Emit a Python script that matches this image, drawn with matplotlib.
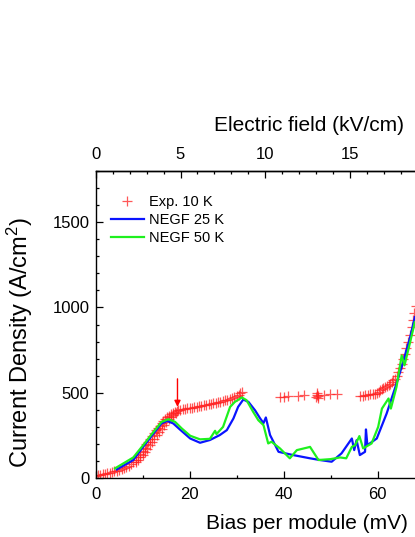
import matplotlib
matplotlib.use("Agg")
import matplotlib.pyplot as plt
from matplotlib.ticker import MultipleLocator

plt.rcParams['font.family'] = ['Liberation Sans', 'DejaVu Sans']
plt.rcParams['mathtext.fontset'] = 'custom'
plt.rcParams['mathtext.rm'] = 'Liberation Sans'
plt.rcParams['mathtext.it'] = 'Liberation Sans:italic'

# experiment, 10 K (up sweep)
exp_v = [0, 0.5, 1.0, 1.5, 2.0, 2.5, 3.0, 3.5, 4.0, 4.5, 5.0, 5.5, 6.0, 6.5, 7.0, 7.5,
         8.0, 8.5, 9.0, 9.5, 10.0, 10.4, 10.8, 11.2, 11.6, 12.0, 12.4, 12.8, 13.2, 13.6,
         14.0, 14.4, 14.8, 15.2, 15.6, 16.0, 16.4, 16.8, 17.2, 17.6, 18.0, 18.5, 19.0,
         19.5, 20.0, 20.5, 21.0, 21.5, 22.0, 22.5, 23.0, 23.5, 24.0, 24.5, 25.0, 25.5,
         26.0, 26.5, 27.0, 27.5, 28.0, 28.5, 29.0, 29.5, 30.0, 30.4, 30.8, 31.2]
exp_j = [15, 18, 21, 24, 27, 30, 33, 36, 40, 44, 48, 53, 59, 66, 74, 84,
         96, 110, 126, 143, 162, 180, 198, 215, 232, 248, 264, 280, 295, 309,
         322, 335, 347, 358, 367, 375, 382, 388, 393, 397, 400, 403, 406,
         409, 411, 414, 416, 418, 421, 424, 427, 430, 433, 436, 439, 442,
         445, 449, 453, 457, 461, 466, 471, 477, 484, 490, 497, 505]
# second branch in the rising part
exp2_v = [8.5, 9.0, 9.5, 10.0, 10.5, 11.0, 11.5, 12.0, 12.5, 13.0, 13.5, 14.0,
          14.5, 15.0, 15.5, 16.0, 16.5, 17.0]
exp2_j = [95, 108, 122, 138, 155, 173, 192, 211, 231, 251, 271, 291,
          310, 328, 345, 360, 373, 384]
# scattered points in the unstable region
exp3_v = [39.2, 40.0, 41.0, 43.0, 44.3, 46.8, 47.0, 47.1, 47.2, 47.4, 48.5, 49.8, 51.3]
exp3_j = [476, 478, 480, 482, 486, 478, 497, 488, 468, 482, 490, 492, 492]
# high bias branch
exp4_v = [56.2, 56.8, 57.3, 58.0, 58.4, 59.0, 59.4, 59.8, 60.2, 60.5, 60.9, 61.2,
          61.6, 62.0, 62.3, 62.6, 63.0, 63.3, 63.7, 64.0, 64.4, 64.7, 65.1, 65.4,
          65.8, 66.1, 66.5, 66.8, 67.2, 67.5, 67.8, 68.1]
exp4_j = [480, 483, 486, 489, 492, 494, 496, 500, 507, 515, 522, 528,
          535, 542, 548, 554, 565, 574, 583, 600, 622, 645, 671, 697,
          729, 760, 797, 840, 885, 925, 970, 1010]

# NEGF 25 K
n25_v = [4.5, 8.0, 10.1, 12.3, 14.0, 15.2, 16.5, 17.9, 20.1, 22.2, 24.3, 26.4, 27.9,
         29.3, 30.3, 31.4, 32.5, 33.9, 35.0, 35.7, 36.2, 37.1, 38.9, 42.0, 45.6,
         47.7, 50.2, 52.3, 54.5, 55.0, 55.5, 56.2, 57.3, 57.5, 57.8, 59.8, 61.9,
         64.0, 65.4, 66.9, 67.9]
n25_j = [52, 107, 184, 262, 321, 336, 321, 286, 233, 208, 224, 253, 282,
         350, 418, 461, 447, 398, 350, 323, 356, 253, 155, 136, 117,
         107, 97, 146, 233, 165, 223, 136, 155, 286, 194, 233, 379,
         554, 680, 826, 943]

# NEGF 50 K
n50_v = [4.1, 8.0, 10.1, 12.3, 14.0, 15.5, 16.9, 18.3, 20.1, 22.2, 24.3, 25.4, 25.7,
         27.1, 28.6, 29.6, 31.1, 32.1, 33.5, 34.6, 35.7, 36.7, 37.4, 39.2, 41.3,
         42.8, 45.2, 45.6, 47.4, 49.9, 52.0, 53.3, 54.5, 55.2, 56.1, 56.9, 58.7,
         60.1, 60.9, 62.3, 62.8, 64.0, 65.1, 65.7, 66.9, 67.9]
n50_j = [58, 122, 194, 272, 330, 346, 330, 292, 249, 228, 231, 278, 259,
         301, 418, 447, 473, 457, 389, 340, 311, 204, 214, 175, 117,
         165, 181, 184, 107, 112, 122, 117, 184, 194, 247, 175, 204,
         301, 408, 467, 408, 535, 719, 661, 797, 914]

MV_TO_KVCM = 0.2771

fig = plt.figure(figsize=(4.15, 5.37), dpi=100)
ax = fig.add_axes([0.2306, 0.1093, 0.7928, 0.5728])

mk = dict(ls='none', marker='+', color='#ff2020', ms=6.5, mew=0.9, alpha=0.75)
ax.plot(exp_v, exp_j, label='Exp. 10 K', **mk)
ax.plot(exp2_v, exp2_j, **mk)
ax.plot(exp3_v, exp3_j, **mk)
ax.plot(exp4_v, exp4_j, **mk)
ax.plot(n25_v, n25_j, color='#0a14ff', lw=1.6, label='NEGF 25 K')
ax.plot(n50_v, n50_j, color='#1ef01e', lw=1.6, label='NEGF 50 K')

ax.annotate('', xy=(17.4, 418), xytext=(17.4, 582),
            arrowprops=dict(arrowstyle='-|>', color='red', lw=1.0,
                            mutation_scale=9, shrinkA=0, shrinkB=0))

ax.set_xlim(0, 70)
ax.set_ylim(0, 1800)
ax.xaxis.set_major_locator(MultipleLocator(20))
ax.xaxis.set_minor_locator(MultipleLocator(10))
ax.yaxis.set_major_locator(MultipleLocator(500))
ax.yaxis.set_minor_locator(MultipleLocator(100))
ax.tick_params(which='both', direction='in', labelsize=12, width=0.9, top=False, right=False)
ax.tick_params(which='major', length=5)
ax.tick_params(which='minor', length=2.5)
ax.tick_params(axis='x', which='major', pad=6.5)
ax.tick_params(axis='y', which='major', pad=4.5)
for s in ax.spines.values():
    s.set_linewidth(1.0)

sec = ax.secondary_xaxis('top', functions=(lambda v: v * MV_TO_KVCM,
                                           lambda e: e / MV_TO_KVCM))
sec.xaxis.set_major_locator(MultipleLocator(5))
sec.xaxis.set_minor_locator(MultipleLocator(1))
sec.tick_params(which='both', direction='in', labelsize=12, width=0.9)
sec.tick_params(which='major', length=5, pad=6.5)
sec.tick_params(which='minor', length=2.5)
sec.spines['top'].set_linewidth(1.0)
sec.set_xlabel('Electric field (kV/cm)', fontsize=15)
sec.xaxis.set_label_coords(0.648, 1.13, transform=ax.transAxes)

ax.set_xlabel('Bias per module (mV)', fontsize=15)
ax.xaxis.set_label_coords(0.642, -0.116)
ax.set_ylabel('Current Density (A/cm$^2$)', fontsize=17)
ax.yaxis.set_label_coords(-0.183, 0.44)

ax.legend(loc='upper left', bbox_to_anchor=(0.045, 0.922), frameon=False,
          fontsize=10.5, handlelength=2.3, handletextpad=0.35, labelspacing=0.3,
          borderpad=0, borderaxespad=0, numpoints=1)

fig.savefig('out.png', dpi=100)
